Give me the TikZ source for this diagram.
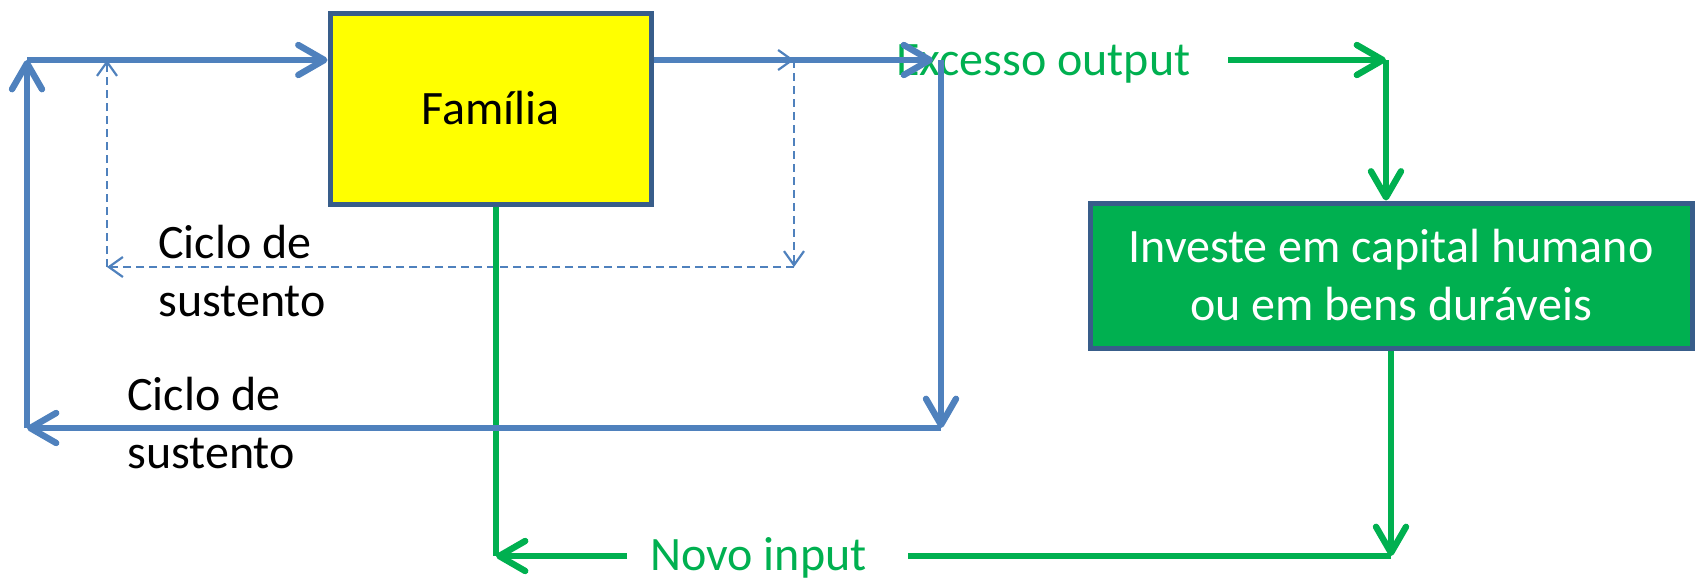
\documentclass[tikz,border=0pt]{standalone}
\usepackage{fontspec}
\setmainfont{Carlito}
\usetikzlibrary{arrows.meta}
\definecolor{flowblue}{HTML}{4F81BD}
\definecolor{flowgreen}{HTML}{00B050}
\definecolor{boxborder}{HTML}{385D8A}
\definecolor{famyellow}{HTML}{FFFF00}
\begin{document}
\begin{tikzpicture}[x=0.5pt,y=-0.5pt,
  bigtip/.style={-{Straight Barb[length=13pt,width=15pt,round]}},
  smalltip/.style={-{Straight Barb[length=7pt,width=10pt]}},
  blueline/.style={draw=flowblue,line width=3.2pt},
  bluearrow/.style={blueline,bigtip},
  greenline/.style={draw=flowgreen,line width=3.2pt},
  greenarrow/.style={greenline,bigtip},
  dasharrow/.style={draw=flowblue,line width=1.1pt,dash pattern=on 4pt off 2.5pt,smalltip},
  txt/.style={font=\fontsize{24}{29}\selectfont,inner sep=0pt},
  fambox/.style={txt,draw=boxborder,line width=2.5pt,fill=famyellow,minimum width=160.5pt,minimum height=95.5pt},
  invbox/.style={txt,draw=boxborder,line width=2.5pt,fill=flowgreen,text=white,align=center,minimum width=301pt,minimum height=72.5pt}
]
\useasboundingbox (0,0) rectangle (1696,579);

% corner coordinates
\coordinate (tl) at (27,60);
\coordinate (bl) at (27,428);
\coordinate (tr) at (941,60);
\coordinate (br) at (941,428);
\coordinate (dtl) at (107,60);
\coordinate (dtr) at (794,60);
\coordinate (dbr) at (794,267);
\coordinate (dbl) at (107,267);
\coordinate (gstart) at (1228,60);
\coordinate (gtr) at (1386,60);
\coordinate (gbl) at (496,556);
\coordinate (gbr) at (1391,556);
\coordinate (nstart) at (627,556);
\coordinate (nend) at (908,556);

% dashed inner cycle (drawn first, lies under the box and thick lines)
\draw[dasharrow] (dtl) -- (dtr);
\draw[dasharrow] (dtr) -- (dbr);
\draw[dasharrow] (dbr) -- (dbl);
\draw[dasharrow] (dbl) -- (dtl);

% nodes
\node[fambox] (fam) at (490.5,108.5) {Família};
\node[invbox] (inv) at (1391,275.5) {Investe em capital humano\\ou em bens duráveis};
\node[txt,anchor=base west,text=flowgreen] (exc) at (896,75) {Excesso output};
\node[txt,anchor=base west,text=flowgreen] (novo) at (650,570) {Novo input};
\node[txt,anchor=base west] (ciclo1) at (158,258) {\begin{tabular}[t]{@{}l@{}}Ciclo de\\sustento\end{tabular}};
\node[txt,anchor=base west] (ciclo2) at (127,410) {\begin{tabular}[t]{@{}l@{}}Ciclo de\\sustento\end{tabular}};

% green flow
\draw[greenline] (gbl |- fam.south) -- (gbl);
\draw[greenarrow] (nstart) -- (gbl);
\draw[greenarrow] (gstart) -- (gtr);
\draw[greenarrow] (gtr) -- (gtr |- inv.north);
\draw[greenarrow] (inv.south) -- (gbr);
\draw[greenline] (gbr) -- (nend);

% blue outer cycle
\draw[bluearrow] (fam.east |- tr) -- ([xshift=-4]tr);
\draw[bluearrow] (tr) -- (br);
\draw[bluearrow] (br) -- (bl);
\draw[bluearrow] (bl) -- (tl);
\draw[bluearrow] (tl) -- (fam.west |- tl);
\end{tikzpicture}
\end{document}
